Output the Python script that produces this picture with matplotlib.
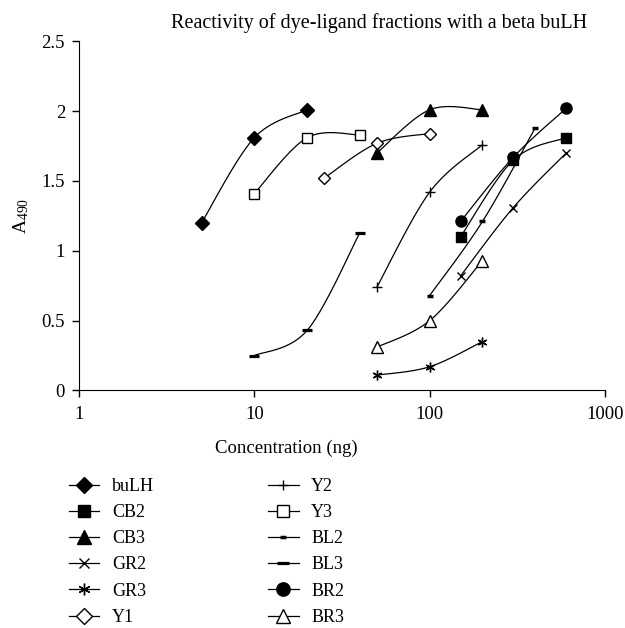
"""Reactivity of dye-ligand fractions with a beta buLH — A490 vs concentration."""

import matplotlib
matplotlib.use('Agg')
import matplotlib.pyplot as plt
import numpy as np

plt.rcParams['font.family'] = ['Liberation Serif', 'DejaVu Serif']
plt.rcParams['mathtext.fontset'] = 'custom'
plt.rcParams['mathtext.rm'] = 'Liberation Serif'

# concentration (ng) and A490 per fraction
buLH_x = [5, 10, 20]
buLH_y = [1.20, 1.81, 2.01]
CB2_x = [150, 300, 600]
CB2_y = [1.10, 1.65, 1.81]
CB3_x = [50, 100, 200]
CB3_y = [1.70, 2.01, 2.01]
GR2_x = [150, 300, 600]
GR2_y = [0.82, 1.31, 1.70]
GR3_x = [50, 100, 200]
GR3_y = [0.11, 0.17, 0.35]
Y1_x = [25, 50, 100]
Y1_y = [1.52, 1.77, 1.84]
Y2_x = [50, 100, 200]
Y2_y = [0.74, 1.42, 1.76]
Y3_x = [10, 20, 40]
Y3_y = [1.41, 1.81, 1.83]
BL2_x = [100, 200, 400]
BL2_y = [0.68, 1.21, 1.88]
BL3_x = [10, 20, 40]
BL3_y = [0.25, 0.43, 1.13]
BR2_x = [150, 300, 600]
BR2_y = [1.21, 1.67, 2.02]
BR3_x = [50, 100, 200]
BR3_y = [0.31, 0.50, 0.93]

# (label, x, y, marker style)
SERIES = [
    ('buLH', buLH_x, buLH_y, dict(marker='D', ms=7, mfc='black')),
    ('CB2', CB2_x, CB2_y, dict(marker='s', ms=7, mfc='black')),
    ('CB3', CB3_x, CB3_y, dict(marker='^', ms=8, mfc='black')),
    ('GR2', GR2_x, GR2_y, dict(marker='x', ms=6, mfc='black')),
    ('GR3', GR3_x, GR3_y, dict(marker=(6, 2, 0), ms=7, mfc='black')),
    ('Y1', Y1_x, Y1_y, dict(marker='D', ms=6.5, mfc='white')),
    ('Y2', Y2_x, Y2_y, dict(marker='+', ms=6.5, mfc='black')),
    ('Y3', Y3_x, Y3_y, dict(marker='s', ms=7, mfc='white')),
    ('BL2', BL2_x, BL2_y, dict(marker='_', ms=4, mew=2.5, mfc='black')),
    ('BL3', BL3_x, BL3_y, dict(marker='_', ms=7.5, mew=2.3, mfc='black')),
    ('BR2', BR2_x, BR2_y, dict(marker='o', ms=8, mfc='black')),
    ('BR3', BR3_x, BR3_y, dict(marker='^', ms=8, mfc='white')),
]

YSCALE = 0.796  # y unit vs one decade on screen, for the smoothing


def smooth(xs, ys, n=30):
    """Excel-like smoothed line (Bezier through points), in log-x space."""
    pts = np.column_stack([np.log10(xs), np.asarray(ys) * YSCALE])
    m = len(pts)
    out = []
    t = np.linspace(0, 1, n, endpoint=False)[:, None]
    for i in range(m - 1):
        p0 = pts[max(i - 1, 0)]
        p1 = pts[i]
        p2 = pts[i + 1]
        p3 = pts[min(i + 2, m - 1)]
        c1 = p1 + (p2 - p0) / 6
        c2 = p2 - (p3 - p1) / 6
        seg = ((1 - t) ** 3 * p1 + 3 * (1 - t) ** 2 * t * c1
               + 3 * (1 - t) * t ** 2 * c2 + t ** 3 * p2)
        out.append(seg)
    out.append(pts[-1][None, :])
    out = np.vstack(out)
    marks = [i * n for i in range(m)]
    return 10 ** out[:, 0], out[:, 1] / YSCALE, marks


fig = plt.figure(figsize=(6.25, 6.28), dpi=100)
ax = fig.add_axes([0.1264, 0.3782, 0.8416, 0.556])

for label, xs, ys, style in SERIES:
    sx, sy, marks = smooth(xs, ys)
    ax.plot(sx, sy, color='black', linewidth=0.9, markevery=marks,
            mec='black', mew=style.pop('mew', 1.0), label=label, **style)

ax.set_xscale('log')
ax.set_xlim(1, 1000)
ax.set_ylim(0, 2.5)
ax.set_xticks([1, 10, 100, 1000])
ax.set_xticklabels(['1', '10', '100', '1000'])
ax.xaxis.set_minor_locator(matplotlib.ticker.NullLocator())
ax.set_yticks([0, 0.5, 1, 1.5, 2, 2.5])
ax.set_yticklabels(['0', '0.5', '1', '1.5', '2', '2.5'])
ax.spines['top'].set_visible(False)
ax.spines['right'].set_visible(False)
ax.tick_params(direction='out', length=5, width=1, labelsize=13.5)
ax.tick_params(axis='x', pad=6)
ax.tick_params(axis='y', pad=5)

ax.set_xlabel('Concentration (ng)', fontsize=13.5)
ax.xaxis.label.set_va('baseline')
ax.xaxis.set_label_coords(0.3935, -0.179)
ax.set_ylabel(r'$\mathregular{A_{490}}$', fontsize=14, labelpad=8)

fig.text(0.606, 0.955, 'Reactivity of dye-ligand fractions with a beta buLH',
         ha='center', va='baseline', fontsize=14.5)

ax.legend(loc='upper left', bbox_to_anchor=(0.084, 0.265),
          bbox_transform=fig.transFigure, ncol=2, frameon=False,
          fontsize=13, handlelength=1.7, handletextpad=0.7,
          columnspacing=6.3, labelspacing=0.51, numpoints=1,
          markerscale=1.2)

plt.savefig('out.png', dpi=100)
